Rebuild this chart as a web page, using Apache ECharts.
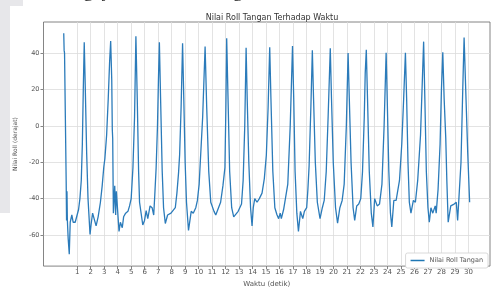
<!DOCTYPE html>
<html>
<head>
<meta charset="utf-8">
<script src="https://cdn.jsdelivr.net/npm/echarts@6/dist/echarts.min.js"></script>
<style>
  html, body { margin: 0; padding: 0; background: #fff; }
  #chart { width: 492px; height: 293px; }
</style>
</head>
<body>
<div id="chart"></div>
<script>
// waktu (detik) and nilai roll (derajat)
const waktu = [
  0.00, 0.03, 0.06, 0.12, 0.18, 0.21, 0.24, 0.27, 0.33, 0.41, 0.48, 0.60, 0.70, 0.85, 0.95, 1.10, 1.20, 1.30, 1.38, 1.45, 1.52,
  1.60, 1.70, 1.80, 1.95, 2.03, 2.14, 2.25, 2.40, 2.55, 2.72, 2.85, 2.97, 3.05, 3.18, 3.30, 3.40, 3.48,
  3.56, 3.60, 3.63, 3.68, 3.78, 3.85, 3.90, 4.10, 4.20, 4.34, 4.44, 4.59, 4.76, 4.88, 5.00, 5.13, 5.25, 5.35,
  5.45, 5.55, 5.62, 5.86, 5.99, 6.11, 6.23, 6.40, 6.55, 6.67, 6.75, 6.85, 6.95, 7.02, 7.09,
  7.18, 7.30, 7.40, 7.53, 7.70, 7.95, 8.07, 8.27, 8.39, 8.51, 8.59, 8.70, 8.81,
  8.90, 9.00, 9.10, 9.25, 9.45, 9.60, 9.79, 9.91, 10.04, 10.13, 10.30, 10.48,
  10.60, 10.75, 10.90, 11.14, 11.27, 11.41, 11.63, 11.80, 11.95, 12.02, 12.08,
  12.18, 12.30, 12.45, 12.60, 12.74, 12.93, 13.18, 13.30, 13.42, 13.52,
  13.60, 13.72, 13.85, 13.96, 14.05, 14.16, 14.33, 14.50, 14.70, 14.87, 15.02, 15.15, 15.27,
  15.36, 15.50, 15.65, 15.80, 15.93, 16.05, 16.13, 16.30, 16.42, 16.61, 16.79, 16.96,
  17.05, 17.15, 17.28, 17.40, 17.55, 17.72, 17.84, 18.01, 18.10, 18.19, 18.32, 18.43,
  18.52, 18.65, 18.80, 19.00, 19.17, 19.31, 19.46, 19.60, 19.76,
  19.85, 19.98, 20.15, 20.30, 20.47, 20.64, 20.79, 20.95, 21.08,
  21.17, 21.30, 21.45, 21.57, 21.72, 21.87, 22.02, 22.15, 22.28, 22.35, 22.43,
  22.52, 22.65, 22.80, 22.92, 23.05, 23.24, 23.41, 23.59, 23.75, 23.90,
  23.98, 24.10, 24.22, 24.32, 24.47, 24.64, 24.89, 25.06, 25.20, 25.33,
  25.42, 25.52, 25.62, 25.74, 25.92, 26.07, 26.24, 26.45, 26.68,
  26.77, 26.88, 27.00, 27.10, 27.22, 27.36, 27.54, 27.61, 27.75, 27.90, 28.00, 28.10,
  28.20, 28.32, 28.40, 28.50, 28.69, 28.94, 29.10, 29.20, 29.31, 29.45, 29.58, 29.68, 29.80, 29.95, 30.09
];
const roll = [
  50.9, 41.5, 40, 5, -30, -52, -36, -52, -62, -70.6, -53, -49, -53, -53, -52, -46, -40, -30, -10, 20, 45.9,
  20, -15, -40, -59.7, -54, -48, -51, -55, -50, -42, -33, -22.6, -18, -5, 15, 35, 46.6,
  25, -2, -7, -48, -33, -49, -36, -58, -53, -56, -50, -48, -47, -44, -40, -23, 5, 49.3,
  15, -25, -42, -54.5, -52, -46.6, -51, -44, -45, -49, -38, -23, 0, 25, 46,
  15, -25, -45, -53.7, -49, -48, -48, -45, -37, -26, -16, 10, 45.4,
  15, -20, -42, -57.5, -47, -48, -45, -41, -32, -19, 5, 43.6,
  10, -25, -42, -47, -49, -48, -42, -33, -23, 10, 48.2,
  15, -25, -45, -50, -49, -47, -43, -30, 0, 43,
  15, -20, -45, -55, -45, -40, -42, -40, -37, -29, -16, 10, 43.2,
  15, -25, -45, -48.7, -51, -48, -51, -46, -45, -32, 0, 43.9,
  15, -25, -48, -58, -47, -51, -47, -45, -35, -22, 10, 41.6,
  15, -20, -42, -51, -45, -41, -25, 5, 42.7,
  15, -20, -45, -53.5, -45, -41, -32, 0, 40,
  15, -20, -45, -52, -44, -43, -40, -25, 5, 29, 41.8,
  15, -25, -48, -55.6, -40, -44, -43, -32, 0, 40.2,
  15, -25, -48, -55.6, -41, -41, -30, -10, 15, 40.2,
  15, -20, -42, -48, -41, -42, -30, -5, 46.3,
  15, -25, -45, -53, -45, -48, -44, -48, -35, -10, 20, 40.4,
  15, -6.6, -30, -53, -44, -43, -42, -52, -53, -20, 20, 48.6, 20, -15, -42
];
const yTicks = [-60, -40, -20, 0, 20, 40];
const xTicks = [1, 2, 3, 4, 5, 6, 7, 8, 9, 10, 11, 12, 13, 14, 15, 16, 17, 18, 19, 20,
  21, 22, 23, 24, 25, 26, 27, 28, 29, 30];

const chart = echarts.init(document.getElementById('chart'));
const labelColor = '#555';

const option = {
  animation: false,
  backgroundColor: '#fff',
  graphic: [
    { type: 'rect', shape: { x: 0, y: 0, width: 10, height: 213 }, style: { fill: '#e7e7ea' }, silent: true },
    { type: 'rect', shape: { x: 0, y: 0, width: 23, height: 6 }, style: { fill: '#e7e7ea' }, silent: true },
    {
      type: 'text', left: 55, top: -17, silent: true,
      style: { text: 'Pengujian Gerakan Tangan', fill: '#222', font: '19px "Liberation Serif"' }
    }
  ],
  title: {
    text: 'Nilai Roll Tangan Terhadap Waktu',
    left: 267,
    textAlign: 'center',
    top: 9,
    textStyle: { fontSize: 8, fontWeight: 'normal', color: '#333', fontFamily: 'DejaVu Sans' }
  },
  legend: {
    right: 4,
    bottom: 25,
    data: ['Nilai Roll Tangan'],
    icon: 'rect',
    itemWidth: 14,
    itemHeight: 1.5,
    itemGap: 4,
    padding: [4, 5],
    borderColor: '#d0d0d0',
    borderWidth: 0.8,
    borderRadius: 2,
    backgroundColor: '#fff',
    textStyle: { fontSize: 6.5, color: labelColor, fontFamily: 'DejaVu Sans' }
  },
  grid: {
    left: 43.5,
    right: 2,
    top: 22,
    bottom: 21,
    show: true,
    borderColor: '#666',
    borderWidth: 0.8,
    backgroundColor: '#fff'
  },
  xAxis: {
    type: 'value',
    min: -1.5,
    max: 31.6,
    name: 'Waktu (detik)',
    nameLocation: 'middle',
    nameGap: 13,
    nameTextStyle: { fontSize: 7, color: labelColor, fontFamily: 'DejaVu Sans' },
    axisLine: { show: false, onZero: false },
    axisTick: { show: true, length: 3, customValues: xTicks, lineStyle: { color: '#666', width: 0.8 } },
    axisLabel: { customValues: xTicks, fontSize: 7, color: labelColor, margin: 3, fontFamily: 'DejaVu Sans' },
    splitLine: { show: true, lineStyle: { color: '#dcdcdc', width: 0.8 } }
  },
  yAxis: {
    type: 'value',
    min: -77.1,
    max: 57.1,
    name: 'Nilai Roll (derajat)',
    nameLocation: 'middle',
    nameGap: 24,
    nameTextStyle: { fontSize: 6, color: labelColor, fontFamily: 'DejaVu Sans' },
    axisLine: { show: false, onZero: false },
    axisTick: { show: true, length: 3, customValues: yTicks, lineStyle: { color: '#666', width: 0.8 } },
    axisLabel: { customValues: yTicks, fontSize: 6.5, color: labelColor, margin: 4, fontFamily: 'DejaVu Sans' },
    splitLine: { show: true, lineStyle: { color: '#dcdcdc', width: 0.8 } }
  },
  series: [
    {
      name: 'Nilai Roll Tangan',
      type: 'line',
      data: waktu.map((t, i) => [t, roll[i]]),
      showSymbol: false,
      color: '#1f77b4',
      lineStyle: { width: 1.3, color: '#2b7bba' }
    }
  ]
};

chart.setOption(option);
</script>
</body>
</html>
